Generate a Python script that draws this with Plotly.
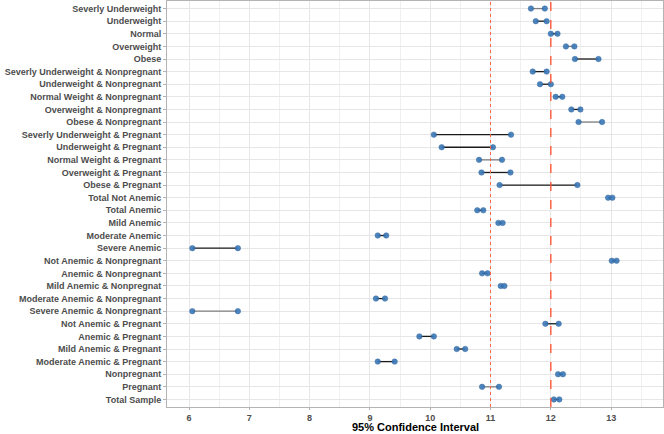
import plotly.graph_objects as go

categories = [
    "Severly Underweight", "Underweight", "Normal", "Overweight", "Obese",
    "Severly Underweight & Nonpregnant", "Underweight & Nonpregnant",
    "Normal Weight & Nonpregnant", "Overweight & Nonpregnant", "Obese & Nonpregnant",
    "Severly Underweight & Pregnant", "Underweight & Pregnant",
    "Normal Weight & Pregnant", "Overweight & Pregnant", "Obese & Pregnant",
    "Total Not Anemic", "Total Anemic", "Mild Anemic", "Moderate Anemic", "Severe Anemic",
    "Not Anemic & Nonpregnant", "Anemic & Nonpregnant", "Mild Anemic & Nonpregnat",
    "Moderate Anemic & Nonpregnant", "Severe Anemic & Nonpregnant",
    "Not Anemic & Pregnant", "Anemic & Pregnant", "Mild Anemic & Pregnant",
    "Moderate Anemic & Pregnant", "Nonpregnant", "Pregnant", "Total Sample",
]
lower = [11.67, 11.75, 12.00, 12.25, 12.40,
         11.70, 11.82, 12.08, 12.34, 12.46,
         10.06, 10.19, 10.81, 10.85, 11.15,
         12.95, 10.78, 11.13, 9.13, 6.055,
         13.01, 10.86, 11.17, 9.10, 6.055,
         11.91, 9.82, 10.44, 9.13, 12.12, 10.86, 12.05]
upper = [11.90, 11.93, 12.11, 12.39, 12.79,
         11.93, 12.00, 12.19, 12.49, 12.85,
         11.34, 11.04, 11.19, 11.33, 12.44,
         13.02, 10.88, 11.20, 9.27, 6.81,
         13.09, 10.95, 11.23, 9.25, 6.81,
         12.13, 10.06, 10.58, 9.41, 12.20, 11.14, 12.14]
ref_dotted = 11
ref_dashed = 12

gray_rows = {"Severly Underweight", "Overweight", "Obese & Nonpregnant",
             "Normal Weight & Pregnant", "Severe Anemic & Nonpregnant", "Pregnant"}

fig = go.Figure()

for grp, col in [(False, "#1a1a1a"), (True, "#7f7f7f")]:
    xs, ys = [], []
    for c, lo, hi in zip(categories, lower, upper):
        if (c in gray_rows) == grp:
            xs += [lo, hi, None]
            ys += [c, c, None]
    fig.add_trace(go.Scatter(x=xs, y=ys, mode="lines",
                             line=dict(color=col, width=1.3),
                             hoverinfo="skip", showlegend=False))

fig.add_trace(go.Scatter(x=lower + upper, y=categories + categories, mode="markers",
                         marker=dict(color="#3a78b8", size=5.5, opacity=0.9,
                                     line=dict(color="#2b5f96", width=0.5)),
                         showlegend=False))

fig.add_vline(x=ref_dotted, line=dict(color="#ff6347", width=1, dash="dot"))
fig.add_vline(x=ref_dashed, line=dict(color="#ff4d2e", width=1.3, dash="dash"))

n = len(categories)
tf = dict(size=9, color="#4d4d4d", family="Liberation Sans, Arial, sans-serif", weight="bold")
fig.update_layout(
    width=664, height=434,
    margin=dict(l=167, r=1, t=1, b=27, autoexpand=False),
    paper_bgcolor="white", plot_bgcolor="white",
    font=dict(family="Liberation Sans, Arial, sans-serif"),
    xaxis=dict(
        automargin=False,
        range=[5.635, 13.86], tickvals=[6, 7, 8, 9, 10, 11, 12, 13],
        showgrid=True, gridcolor="#e6e6e6", gridwidth=1,
        minor=dict(dtick=0.5, showgrid=True, gridcolor="#f0f0f0", gridwidth=0.6),
        zeroline=False, showline=True, mirror=True, linecolor="#b3b3b3", linewidth=1,
        ticks="outside", ticklen=2, tickcolor="#b3b3b3",
        tickfont=tf,
    ),
    yaxis=dict(
        automargin=False,
        type="category", categoryorder="array", categoryarray=categories,
        range=[n - 1 + 0.6, -0.6],
        showgrid=True, gridcolor="#e6e6e6", gridwidth=1,
        zeroline=False, showline=True, mirror=True, linecolor="#b3b3b3", linewidth=1,
        ticks="outside", ticklen=3, tickcolor="#b3b3b3",
        tickfont=tf,
    ),
    annotations=[dict(text="<b>95% Confidence Interval</b>", xref="paper", yref="paper",
                      x=0.5, y=0, yshift=-27, xanchor="center", yanchor="bottom", showarrow=False,
                      borderpad=0, font=dict(size=11, color="#000000"))],
)

fig.write_html("out.html", config={"displayModeBar": False},
               post_script="document.body.style.margin='0';document.body.style.overflow='hidden';")
